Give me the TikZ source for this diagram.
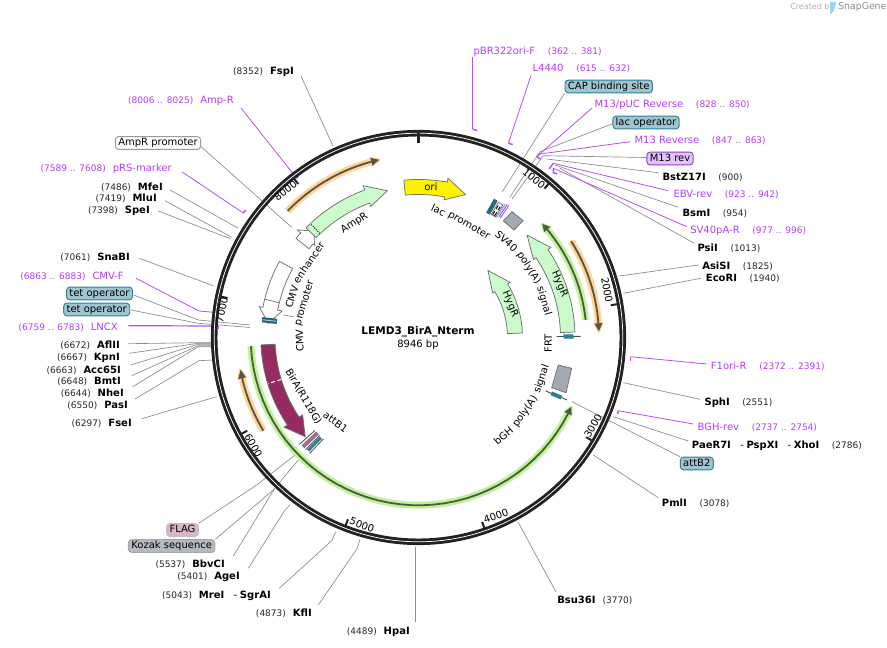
\documentclass[tikz,border=0pt]{standalone}
\usepackage{fontspec}
\setmainfont{DejaVu Sans}
\definecolor{ringc}{HTML}{222222}
\definecolor{leadc}{HTML}{8C8C8C}
\definecolor{primc}{HTML}{B450F5}
\definecolor{primt}{HTML}{B23CFF}
\definecolor{edgec}{HTML}{707070}
\definecolor{mintc}{HTML}{CBFBCB}
\definecolor{wine}{HTML}{952B60}
\definecolor{tealc}{HTML}{2F7F96}
\definecolor{greyb}{HTML}{A3A9B3}
\definecolor{ghalo}{HTML}{BDF299}
\definecolor{ohalo}{HTML}{FFD391}
\definecolor{gcore}{HTML}{4C5C3E}
\definecolor{ocore}{HTML}{5A5248}
\definecolor{logoc}{HTML}{9AD4F5}
\newcommand\fsz[1]{\fontsize{#1}{#1}\selectfont}
\newcommand\ps[1]{{\fsz{6.75}\textcolor{black!85}{#1}}}
\newcommand\nm[1]{{\fsz{7.5}\bfseries #1}}
\newcommand\pn[1]{{\fsz{7.5}\textcolor{primt}{#1}}}
\newcommand\pp[1]{{\fsz{6.75}\textcolor{primt}{#1}}}
\newcommand\gl{\hspace{5.2pt}}
\newcommand\gr{\hspace{9.5pt}}
% style, tail, base, tip, Rin, Rout, Rhin, Rhout
\newcommand\farrow[8]{\draw[#1] plot[domain=#2:#3,samples=25] ({\x-90}:#6) -- ({#3-90}:#8) -- ({#4-90}:{(#5+#6)/2}) -- ({#3-90}:#7) -- plot[domain=#3:#2,samples=25] ({\x-90}:#5) -- cycle;}
% halo, core, from, base, tip, R
\newcommand\prarc[6]{%
 \draw[#1,line width=5.2pt,line cap=butt] plot[domain=#3:#4,samples=40] ({\x-90}:#6);
 \fill[#1,draw=#1,line width=2pt,line join=round] ({#4-90}:{#6+3.5}) -- ({#5-90}:#6) -- ({#4-90}:{#6-3.5}) -- cycle;
 \draw[#2,line width=1.35pt] plot[domain=#3:#4,samples=40] ({\x-90}:#6);
 \fill[#2] ({#4-90}:{#6+4}) -- ({#5-90}:#6) -- ({#4-90}:{#6-4}) -- cycle;}
% name, theta, radius, rotation, text
\newcommand\arcword[5]{\node[word,rotate=#4] (#1) at ({#2-90}:#3) {#5};}
\newcommand\band[5]{\draw[#5,line width=#4,line cap=butt] ({#1-90}:#2) -- ({#1-90}:#3);}
\tikzset{
 txt/.style={inner sep=0pt,text height=6.5pt,text depth=1pt},
 lft/.style={txt,anchor=east},
 rgt/.style={txt,anchor=west},
 ldr/.style={draw=leadc,line width=.5pt},
 pld/.style={draw=primc,line width=.6pt},
 hookl/.style={draw=primc,line width=1.1pt},
 boxn/.style={rounded corners=2.5pt,line width=.7pt,inner xsep=2.2pt,inner ysep=0pt,minimum height=9.6pt,text height=5.5pt,text depth=1.5pt,font=\fsz{7.5}},
 tealbox/.style={boxn,draw=tealc,fill=tealc!45!white},
 feat/.style={draw=edgec,line width=.55pt,line join=miter},
 ticklab/.style={inner sep=0pt,font=\fsz{7.5}},
 word/.style={inner sep=0pt,font=\fsz{7.5}},
 tick/.style={draw=ringc,line width=1.5pt},
}
\begin{document}
\begin{tikzpicture}[x=.75pt,y=-.75pt]
\useasboundingbox (0,0) rectangle (887,648);
\fill[white] (0,0) rectangle (887,648);
% credit
\node[inner sep=0pt,anchor=west,font=\fsz{6},text=black!30] (credA) at (790,7) {Created by};
\node[inner sep=0pt,anchor=west,font=\fsz{7},text=black!45] (credB) at (838,7.5) {SnapGene};
\path[fill=logoc] (830,2) -- (836,2) .. controls (835.5,7) and (834,11) .. (831,14) -- (830,14) -- cycle;
% ---------- labels
\node[lft] (nFspI) at (294,71) {\ps{(8352)}\gl\nm{FspI}};
\node[lft] (nAmpRp) at (234,100) {\pp{(8006 .. 8025)}\gl\pn{Amp-R}};
\node[boxn,draw=black!40,fill=white] (nApBox) at (158,143) {AmpR promoter};
\node[lft] (npRS) at (172,168) {\pp{(7589 .. 7608)}\gl\pn{pRS-marker}};
\node[lft] (nMfeI) at (163,186.7) {\ps{(7486)}\gl\nm{MfeI}};
\node[lft] (nMluI) at (157,198.3) {\ps{(7419)}\gl\nm{MluI}};
\node[lft] (nSpeI) at (150,210.3) {\ps{(7398)}\gl\nm{SpeI}};
\node[lft] (nSnaBI) at (130,257.3) {\ps{(7061)}\gl\nm{SnaBI}};
\node[lft] (nCMVF) at (124,275.7) {\pp{(6863 .. 6883)}\gl\pn{CMV-F}};
\node[tealbox] (nTet1) at (99.5,293.5) {tet operator};
\node[tealbox] (nTet2) at (96.7,309.5) {tet operator};
\node[lft] (nLNCX) at (118,327.3) {\pp{(6759 .. 6783)}\gl\pn{LNCX}};
\node[lft] (nAflII) at (120,345.3) {\ps{(6672)}\gl\nm{AflII}};
\node[lft] (nKpnI) at (120,357.3) {\ps{(6667)}\gl\nm{KpnI}};
\node[lft] (nAcc) at (121,369.7) {\ps{(6663)}\gl\nm{Acc65I}};
\node[lft] (nBmtI) at (121,381) {\ps{(6648)}\gl\nm{BmtI}};
\node[lft] (nNheI) at (124,393.3) {\ps{(6644)}\gl\nm{NheI}};
\node[lft] (nPasI) at (128,405.3) {\ps{(6550)}\gl\nm{PasI}};
\node[lft] (nFseI) at (132,423.3) {\ps{(6297)}\gl\nm{FseI}};
\node[boxn,draw=black!25,fill=wine!35!white] (nFLAG) at (182.5,530) {FLAG};
\node[boxn,draw=black!35,fill=greyb!80!white] (nKozak) at (171.7,546) {Kozak sequence};
\node[lft] (nBbvCI) at (225,564) {\ps{(5537)}\gl\nm{BbvCI}};
\node[lft] (nAgeI) at (240,576) {\ps{(5401)}\gl\nm{AgeI}};
\node[lft] (nMreI) at (271,595) {\ps{(5043)}\gl\nm{MreI}\hspace{7pt}{\fsz{7.5}-}\hspace{2pt}\nm{SgrAI}};
\node[lft] (nKflI) at (312,613.3) {\ps{(4873)}\gl\nm{KflI}};
\node[lft] (nHpaI) at (410,631) {\ps{(4489)}\gl\nm{HpaI}};
\node[rgt] (nBsu) at (557,599.5) {\nm{Bsu36I}\gl\ps{(3770)}};
\node[rgt] (nPmlI) at (661.7,503.3) {\nm{PmlI}\gr\ps{(3078)}};
\node[tealbox] (nAttB2) at (696.8,463.5) {attB2};
\node[rgt] (nPae) at (691.7,445) {\nm{PaeR7I}\hspace{7pt}{\fsz{7.5}-}\hspace{2pt}\nm{PspXI}\hspace{7pt}{\fsz{7.5}-}\hspace{2pt}\nm{XhoI}\gr\ps{(2786)}};
\node[rgt] (nBGH) at (697.3,427.3) {\pn{BGH-rev}\gr\pp{(2737 .. 2754)}};
\node[rgt] (nSphI) at (704.3,402.3) {\nm{SphI}\gr\ps{(2551)}};
\node[rgt] (nF1) at (710.7,365.7) {\pn{F1ori-R}\gr\pp{(2372 .. 2391)}};
\node[rgt] (nEcoRI) at (705.7,278.3) {\nm{EcoRI}\gr\ps{(1940)}};
\node[rgt] (nAsiSI) at (702,266) {\nm{AsiSI}\gr\ps{(1825)}};
\node[rgt] (nPsiI) at (697.3,248.3) {\nm{PsiI}\gr\ps{(1013)}};
\node[rgt] (nSV40) at (690,230) {\pn{SV40pA-R}\gr\pp{(977 .. 996)}};
\node[rgt] (nBsmI) at (682.3,212.7) {\nm{BsmI}\gr\ps{(954)}};
\node[rgt] (nEBV) at (673.3,194) {\pn{EBV-rev}\gr\pp{(923 .. 942)}};
\node[rgt] (nBst) at (662.3,176.7) {\nm{BstZ17I}\gr\ps{(900)}};
\node[boxn,draw=primc!80!black,fill=primc!35!white] (nM13rev) at (670,158.5) {M13 rev};
\node[rgt] (nM13R) at (634.3,140) {\pn{M13 Reverse}\gr\pp{(847 .. 863)}};
\node[tealbox] (nLacO) at (646,122.5) {lac operator};
\node[rgt] (nPUC) at (594.3,104.3) {\pn{M13/pUC Reverse}\gr\pp{(828 .. 850)}};
\node[tealbox] (nCAP) at (608.7,86.5) {CAP binding site};
\node[rgt] (nL44) at (532.3,68.3) {\pn{L4440}\gr\pp{(615 .. 632)}};
\node[rgt] (npBR) at (473.3,50.7) {\pn{pBR322ori-F}\gr\pp{(362 .. 381)}};
% ---------- connector ends
\foreach \n/\p in {FspI/{333,146},AmpRp/{296.7,178.3},Ap/{291.7,227.3},pRS/{243.3,213},MfeI/{238.3,228.3},MluI/{231.7,237.3},SpeI/{231,239},SnaBI/{213.3,285.7},CMVF/{218.3,312.7},Tet1/{250,325},Tet2/{250,327.5},LNCX/{218.3,326},AflII/{213,342.7},KpnI/{213,343.3},Acc/{213,344.3},BmtI/{213,345.7},NheI/{213,346.7},PasI/{213,360},FseI/{216.7,396.7},FLAG/{295,455},Kozak/{298.3,460},BbvCI/{278,483},AgeI/{290,505},MreI/{335.7,531.7},KflI/{360,539.3},HpaI/{415.7,546.7},Bsu/{518,522},PmlI/{593.3,455},AttB2/{572,401.7},Pae/{613.3,416.7},BGH/{618.3,410.7},SphI/{623.3,382.7},F1/{630.7,356.7},EcoRI/{623.3,293.3},AsiSI/{619.3,276},PsiI/{560,168.3},SV40/{553.3,168.3},BsmI/{555,165},EBV/{553.3,163.3},Bst/{546.7,159},M13rev/{512,199},M13R/{540,154},LacO/{510,197},PUC/{536.7,156.7},CAP/{502.3,191.7},L44/{508.3,143.3},pBR/{472.7,129.3}}
 {\coordinate (e\n) at (\p);}
\foreach \n/\p in {CMVF/{199,311},Tet1/{198.3,320},Tet2/{198.3,323.3},AflII/{198.3,342.7},KpnI/{198.3,343.3},Acc/{198.3,344.3},BmtI/{198.3,345.7},NheI/{198.3,346.7},PasI/{199,360.7},FLAG/{256.7,485},Kozak/{273.3,490},AgeI/{285,510},MreI/{331.7,540.7},KflI/{357.3,548.3},M13rev/{543.3,155.7},LacO/{540,151.7}}
 {\coordinate (k\n) at (\p);}
% ---------- connectors
\draw[ldr] ([shift={(7,5)}]nFspI.east) -- (eFspI);
\draw[pld] ([shift={(7,8)}]nAmpRp.east) -- (eAmpRp);
\draw[ldr] ([shift={(0,3.7)}]nApBox.east) -- (eAp);
\draw[pld] ([shift={(9.7,3.7)}]npRS.east) -- (epRS);
\draw[ldr] ([shift={(7,3.3)}]nMfeI.east) -- (eMfeI);
\draw[ldr] ([shift={(8,2.4)}]nMluI.east) -- (eMluI);
\draw[ldr] ([shift={(8.3,.7)}]nSpeI.east) -- (eSpeI);
\draw[ldr] ([shift={(9.3,1)}]nSnaBI.east) -- (eSnaBI);
\draw[pld] ([shift={(12,2.6)}]nCMVF.east) -- (kCMVF) -- (eCMVF);
\draw[ldr] ([shift={(.7,1.5)}]nTet1.east) -- (kTet1) -- (eTet1);
\draw[ldr] ([shift={(1,.5)}]nTet2.east) -- (kTet2) -- (eTet2);
\draw[pld,line width=.9pt] ([shift={(10.3,-1.6)}]nLNCX.east) -- (eLNCX);
\draw[ldr] ([shift={(8.3,-1.6)}]nAflII.east) -- (kAflII) -- (eAflII);
\draw[ldr] ([shift={(9.3,-4)}]nKpnI.east) -- (kKpnI) -- (eKpnI);
\draw[ldr] ([shift={(9.7,-4.7)}]nAcc.east) -- (kAcc) -- (eAcc);
\draw[ldr] ([shift={(10.7,-5.3)}]nBmtI.east) -- (kBmtI) -- (eBmtI);
\draw[ldr] ([shift={(8.7,-6.6)}]nNheI.east) -- (kNheI) -- (eNheI);
\draw[ldr] ([shift={(7,-6.3)}]nPasI.east) -- (kPasI) -- (ePasI);
\draw[ldr] ([shift={(9.7,-4.6)}]nFseI.east) -- (eFseI);
\draw[ldr] (nFLAG.north east) -- (kFLAG) -- (eFLAG);
\draw[ldr] (nKozak.north east) -- (kKozak) -- (eKozak);
\draw[ldr] ([shift={(8.3,-8)}]nBbvCI.east) -- (eBbvCI);
\draw[ldr] ([shift={(8.3,-7.7)}]nAgeI.east) -- (kAgeI) -- (eAgeI);
\draw[ldr] ([shift={(8.3,-6.7)}]nMreI.east) -- (kMreI) -- (eMreI);
\draw[ldr] ([shift={(6.3,-8.3)}]nKflI.east) -- (kKflI) -- (eKflI);
\draw[ldr] ([shift={(5.7,-9.3)}]nHpaI.east) -- (eHpaI);
\draw[ldr] ([shift={(-1,-7.5)}]nBsu.west) -- (eBsu);
\draw[ldr] ([shift={(-3.4,-5.6)}]nPmlI.west) -- (ePmlI);
\draw[ldr] (nAttB2.north west) -- (eAttB2);
\draw[ldr] ([shift={(-3.4,-4)}]nPae.west) -- (ePae);
\draw[pld] ([shift={(-4,-3.3)}]nBGH.west) -- (eBGH);
\draw[ldr] ([shift={(-4.3,-3)}]nSphI.west) -- (eSphI);
\draw[pld] ([shift={(-4,-1.7)}]nF1.west) -- (eF1);
\draw[ldr] ([shift={(-5,0)}]nEcoRI.west) -- (eEcoRI);
\draw[ldr] ([shift={(-3.7,-1)}]nAsiSI.west) -- (eAsiSI);
\draw[ldr] ([shift={(-3,-5)}]nPsiI.west) -- (ePsiI);
\draw[pld] ([shift={(-3.3,-3.3)}]nSV40.west) -- (eSV40);
\draw[ldr] ([shift={(-4,-5.4)}]nBsmI.west) -- (eBsmI);
\draw[pld] ([shift={(-5,-3.3)}]nEBV.west) -- (eEBV);
\draw[ldr] ([shift={(-4,-4)}]nBst.west) -- (eBst);
\draw[ldr] ([shift={(0,-1)}]nM13rev.west) -- (kM13rev) -- (eM13rev);
\draw[pld] ([shift={(-4.3,1.7)}]nM13R.west) -- (eM13R);
\draw[ldr] ([shift={(-.5,1.5)}]nLacO.west) -- (kLacO) -- (eLacO);
\draw[pld] ([shift={(-2.6,4)}]nPUC.west) -- (ePUC);
\draw[ldr] (nCAP.south west) -- (eCAP);
\draw[pld] ([shift={(-1.3,7.4)}]nL44.west) -- (eL44);
\draw[pld,line width=.9pt] ([shift={(-.6,6.6)}]npBR.west) -- (epBR);
% primer hooks
\draw[hookl] (eAmpRp) -- ++(2,-3);
\draw[hookl] (epRS) -- ++(2.4,-3);
\draw[hookl] (eCMVF) -- ++(0,3.2);
\draw[hookl] (eLNCX) -- ++(0,3.2);
\draw[hookl] (eBGH) -- ++(-.7,3.5);
\draw[hookl] (eF1) -- ++(0,4);
\draw[hookl] (eSV40) -- ++(0,4.5) -- ++(4,1);
\draw[hookl] (eEBV) -- ++(-4,5.5);
\draw[hookl] (eM13R) -- ++(-3,2);
\draw[hookl] (ePUC) -- ++(4,2.5);
\draw[hookl] (eL44) -- ++(4.5,1.2);
\draw[hookl] (epBR) -- ++(4.5,1.2);
% ---------- ring
\draw[ringc,line width=4.9pt] (418.5,337.5) circle (204.3);
\draw[white,line width=.55pt] (418.5,337.5) circle (204.3);
\begin{scope}[shift={(418.5,337.5)}]
% ticks
\draw[tick,line width=1.7pt] (-90:206) -- (-90:194);
\foreach \t in {40.24,80.48,120.72,160.96,201.2,241.44,281.68,321.92}
 {\draw[tick] ({\t-90}:203) -- ({\t-90}:195);}
% orange and green primer-like arcs
\prarc{ohalo}{ocore}{314}{345}{347.5}{182}
\prarc{ohalo}{ocore}{239}{257}{259.7}{181}
\prarc{ohalo}{ocore}{57.7}{85.5}{88}{180.5}
\prarc{ghalo}{gcore}{84}{50}{47.5}{168}
\prarc{ghalo}{gcore}{267}{117}{114.4}{167.8}
% features
\farrow{feat,fill=white}{309}{311.6}{315.5}{141}{157.5}{139}{162}
\farrow{feat,fill=mintc}{314.3}{340}{348}{143}{157}{139.5}{161.5}
\draw[black,densely dotted,line width=.7pt] ({316.5-90}:143.5) -- ({316.5-90}:156.5);
\farrow{feat,fill=white}{298.7}{281}{275.4}{143.5}{158.5}{139}{162.3}
\draw[feat] ({284-90}:143.5) -- ({284-90}:158.5);
\farrow{feat,fill=yellow}{-5.3}{10.5}{18.2}{143}{158}{140}{162}
\farrow{feat,fill=wine}{267.3}{236.3}{228.8}{143.5}{157.7}{139.3}{161.6}
\draw[white,densely dashed,line width=.8pt] ({253-90}:143.5) -- ({253-90}:157.5);
\farrow{feat,fill=mintc}{88}{55.8}{46.7}{142}{156.5}{139}{160}
\farrow{feat,fill=mintc}{87.5}{59}{46}{89}{104}{86.5}{107}
% tet / FRT / attB marks
\band{276.5}{142.5}{157.5}{3.9pt}{tealc!80!black}
\band{276.5}{143}{157}{.7pt}{tealc!40!white}
\band{89.6}{138}{162}{.7pt}{black!70}
\band{89.6}{145}{155}{3.2pt}{tealc}
\band{112.8}{138}{161}{.7pt}{black!70}
\band{112.8}{144}{155}{3pt}{tealc}
\band{228.1}{139}{160}{.6pt}{black!70}
\band{226.6}{139}{159}{3pt}{wine!45!greyb}
\band{225.2}{139}{159}{.6pt}{black!70}
\band{224.3}{140}{158}{2.2pt}{tealc}
\band{223.2}{139}{159}{.6pt}{black!70}
% CAP / lac cluster
\band{29.3}{142}{158}{3.2pt}{tealc!85!black}
\farrow{feat,fill=white}{30.6}{32.5}{32.5}{143}{157}{143}{157}
\band{31.1}{143.5}{156.5}{.7pt}{black,densely dashed}
\band{32}{143.5}{156.5}{.7pt}{black,densely dashed}
\band{33}{143}{159}{1.1pt}{cyan!40!tealc!60!white}
\band{33.7}{145}{160}{.7pt}{primc}
\band{34.4}{145}{160}{.7pt}{primc}
\end{scope}
% grey boxes
\draw[feat,fill=greyb] (512,211.7) -- (523.2,220.7) -- (514,230) -- (503.3,221) -- cycle;
\draw[feat,fill=greyb] (558.3,365) -- (571.7,368.3) -- (566,392.7) -- (551.7,387.7) -- cycle;
% CMV promoter short connector
\coordinate (cpA) at (283.3,315);
\coordinate (cpB) at (293.3,316.7);
\draw[ldr] (cpA) -- (cpB);
% numbers
\node[ticklab,rotate=-40] (t1) at (534,179) {1000};
\node[ticklab,rotate=-80] (t2) at (607,290) {2000};
\node[ticklab,rotate=60] (t3) at (593,426) {3000};
\node[ticklab,rotate=19] (t4) at (496,516) {4000};
\node[ticklab,rotate=-21] (t5) at (362,525) {5000};
\node[ticklab,rotate=-61] (t6) at (253.5,445.5) {6000};
\node[ticklab,rotate=78] (t7) at (222,310) {7000};
\node[ticklab,rotate=38] (t8) at (285.5,191) {8000};
% center
\node[inner sep=0pt,font=\fsz{7.9}\bfseries] (title) at (418,332) {LEMD3\_BirA\_Nterm};
\node[inner sep=0pt,font=\fsz{7.5}] (bp) at (418,344.5) {8946 bp};
\node[word,rotate=-2] (ori) at (431,187) {ori};
% rotated feature labels placed by pixel
\node[word,rotate=-25] (lacA) at (438.5,210) {lac};
\node[word,rotate=-30] (lacB) at (469,226) {promoter};
\node[word,rotate=33] (lampr) at (354.5,223.3) {AmpR};
\node[word,rotate=-60] (lbira) at (303.5,396.7) {BirA(R118G)};
\node[word,rotate=-36] (lattb) at (335.5,422) {attB1};
\node[word,rotate=90] (lfrt) at (548.3,343) {FRT};
\begin{scope}[shift={(418.5,337.5)}]
\arcword{sv1}{42.4}{130.5}{-42.4}{SV40}
\arcword{sv2}{57.7}{130.5}{-57.7}{poly(A)}
\arcword{sv3}{73.9}{130.5}{-73.9}{signal}
\arcword{bg1}{139.2}{130}{40.8}{bGH}
\arcword{bg2}{124.8}{130}{55.2}{poly(A)}
\arcword{bg3}{108.6}{130}{71.4}{signal}
\arcword{hy1}{69.3}{150.8}{-67}{HygR}
\arcword{hy2}{70}{97.5}{-67}{HygR}
\arcword{ce1}{287.8}{133}{72.2}{CMV}
\arcword{ce2}{304.3}{133}{55.7}{enhancer}
\arcword{cp1}{268.4}{119}{91.6}{CMV}
\arcword{cp2}{286.8}{119}{73.2}{promoter}
\end{scope}
\end{tikzpicture}
\end{document}
